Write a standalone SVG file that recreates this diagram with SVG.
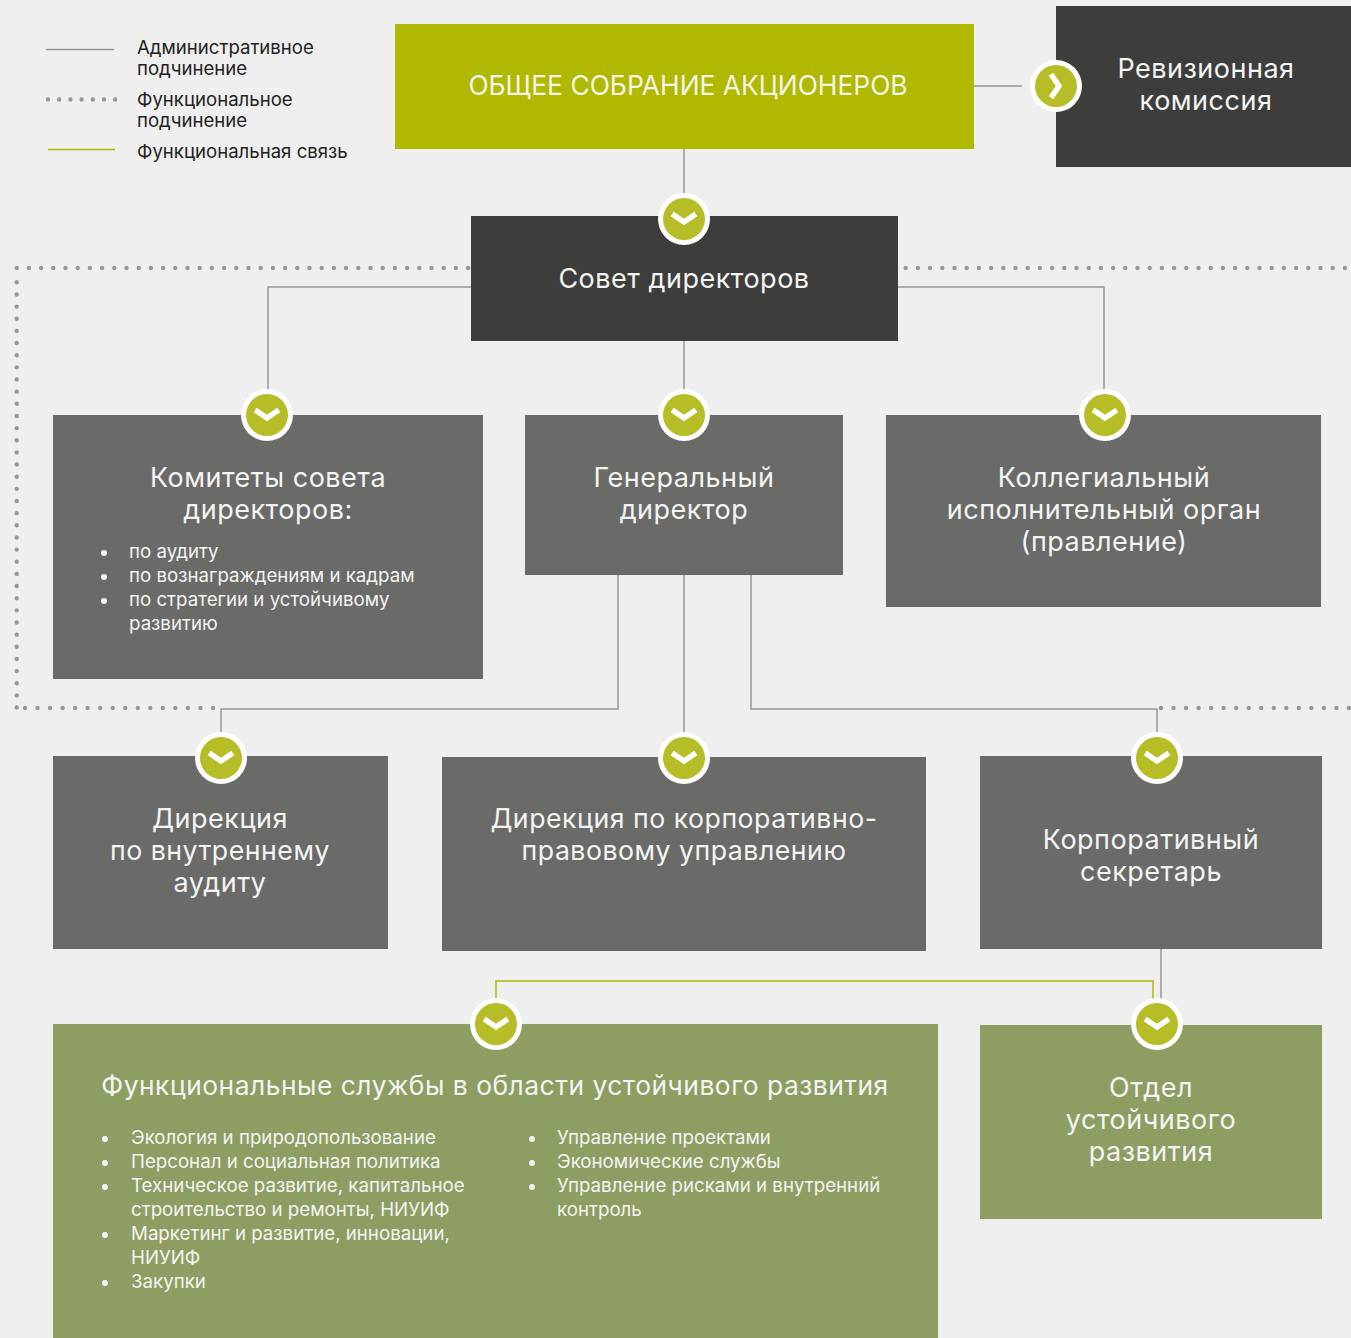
<svg xmlns="http://www.w3.org/2000/svg" width="1351" height="1338" viewBox="0 0 1351 1338">
<style>
text{font-family:Inter,"Noto Sans",sans-serif}
.h{font-size:27px;fill:#f4f4f4;text-anchor:middle;letter-spacing:.5px}
.m{font-size:26.7px}
.t{font-size:26.4px}
.s{font-size:18.7px;fill:#f4f4f4}
.l{font-size:18.6px;fill:#222}
.a{fill:none;stroke:#989898;stroke-width:1.5}
.g{fill:none;stroke:#b2b800;stroke-width:1.5}
.d{fill:none;stroke:#96979a;stroke-width:4.4;stroke-linecap:round;stroke-dasharray:0 12.2}
.o{fill:#fff}.i{fill:#b7bd26}
.c{fill:none;stroke:#fff;stroke-width:5.4}
.dg{fill:#3d3d3b}.mg{fill:#6a6a68}.gr{fill:#8e9e62}
.b{fill:#f4f4f4}
</style>
<defs>
<g id="bd"><circle class="o" r="26"/><circle class="i" r="21"/><path class="c" d="M-11.800-5 0 3 11.800-5"/></g>
<g id="br"><circle class="o" r="26"/><circle class="i" r="21"/><path class="c" d="M-5-11.800 3 0-5 11.800"/></g>
</defs>
<rect width="1351" height="1338" fill="#efefef"/>
<g id="legend">
<path class="a" d="M46 49.500H114"/>
<path class="d" d="M48 99.500H116" style="stroke-dasharray:0 11.2"/>
<path class="g" d="M48 149.500H115"/>
<text class="l" x="137" y="54">Административное</text>
<text class="l" x="137" y="75">подчинение</text>
<text class="l" x="137" y="106">Функциональное</text>
<text class="l" x="137" y="127">подчинение</text>
<text class="l" x="137" y="158">Функциональная связь</text>
</g>
<g id="connectors">
<path class="d" d="M16.700 268H470M905.700 268H1351"/>
<path class="d" d="M16.700 282.300V708" style="stroke-dasharray:0 12.150"/>
<path class="d" d="M25 708H214M1161 708H1351" style="stroke-dasharray:0 12.530"/>
<path class="a" d="M974 86H1022M684 149V200M471 287H268V395M898 287H1104V395M684 341V395M618 575V709H221V740M684 575V740M751 575V709H1157V740M1161 949V1005"/>
<path class="g" d="M1153 1005V981H496V1005"/>
</g>
<g id="n-assembly"><rect x="395" y="24" width="579" height="125" fill="#b0b800"/><text x="688" y="95" style="font-size:26.4px;fill:#f4f4e8;text-anchor:middle">ОБЩЕЕ СОБРАНИЕ АКЦИОНЕРОВ</text></g>
<g id="n-audit"><rect class="dg" x="1056" y="6" width="295" height="161"/><text class="h" x="1206" y="78">Ревизионная</text><text class="h" x="1206" y="110">комиссия</text><use href="#br" x="1056" y="86"/></g>
<g id="n-board"><rect class="dg" x="471" y="216" width="427" height="125"/><text class="h" x="684" y="288">Совет директоров</text><use href="#bd" x="684" y="219"/></g>
<g id="n-committees"><rect class="mg" x="53" y="415" width="430" height="264"/>
<text class="h" x="268" y="487">Комитеты совета</text><text class="h" x="268" y="519">директоров:</text>
<circle class="b" cx="104" cy="553" r="3"/><circle class="b" cx="104" cy="577" r="3"/><circle class="b" cx="104" cy="601" r="3"/>
<text class="s" x="129" y="558">по аудиту</text><text class="s" x="129" y="582">по вознаграждениям и кадрам</text><text class="s" x="129" y="606">по стратегии и устойчивому</text><text class="s" x="129" y="630">развитию</text>
<use href="#bd" x="267" y="415"/></g>
<g id="n-ceo"><rect class="mg" x="525" y="415" width="318" height="160"/><text class="h" x="684" y="487">Генеральный</text><text class="h" x="684" y="519">директор</text><use href="#bd" x="684" y="415"/></g>
<g id="n-exec"><rect class="mg" x="886" y="415" width="435" height="192"/><text class="h" x="1104" y="487">Коллегиальный</text><text class="h" x="1104" y="519">исполнительный орган</text><text class="h" x="1104" y="551">(правление)</text><use href="#bd" x="1105" y="415"/></g>
<g id="n-intaudit"><rect class="mg" x="53" y="756" width="335" height="193"/><text class="h" x="220" y="828">Дирекция</text><text class="h m" x="220" y="860">по внутреннему</text><text class="h" x="220" y="892">аудиту</text><use href="#bd" x="221" y="758"/></g>
<g id="n-legal"><rect class="mg" x="442" y="757" width="484" height="194"/><text class="h m" x="684" y="828">Дирекция по корпоративно-</text><text class="h m" x="684" y="860">правовому управлению</text><use href="#bd" x="684" y="758"/></g>
<g id="n-secretary"><rect class="mg" x="980" y="756" width="342" height="193"/><text class="h" x="1151" y="849">Корпоративный</text><text class="h" x="1151" y="881">секретарь</text><use href="#bd" x="1157" y="758"/></g>
<g id="n-services"><rect class="gr" x="53" y="1024" width="885" height="314"/>
<text class="h t" x="495" y="1095">Функциональные службы в области устойчивого развития</text>
<circle class="b" cx="105" cy="1139" r="3"/><circle class="b" cx="105" cy="1163" r="3"/><circle class="b" cx="105" cy="1187" r="3"/><circle class="b" cx="105" cy="1235" r="3"/><circle class="b" cx="105" cy="1283" r="3"/>
<text class="s" x="131" y="1144">Экология и природопользование</text><text class="s" x="131" y="1168">Персонал и социальная политика</text><text class="s" x="131" y="1192">Техническое развитие, капитальное</text><text class="s" x="131" y="1216">строительство и ремонты, НИУИФ</text><text class="s" x="131" y="1240">Маркетинг и развитие, инновации,</text><text class="s" x="131" y="1264">НИУИФ</text><text class="s" x="131" y="1288">Закупки</text>
<circle class="b" cx="532" cy="1139" r="3"/><circle class="b" cx="532" cy="1163" r="3"/><circle class="b" cx="532" cy="1187" r="3"/>
<text class="s" x="557" y="1144">Управление проектами</text><text class="s" x="557" y="1168">Экономические службы</text><text class="s" x="557" y="1192">Управление рисками и внутренний</text><text class="s" x="557" y="1216">контроль</text>
<use href="#bd" x="496" y="1024"/></g>
<g id="n-dept"><rect class="gr" x="980" y="1025" width="342" height="194"/><text class="h" x="1151" y="1097">Отдел</text><text class="h" x="1151" y="1129">устойчивого</text><text class="h" x="1151" y="1161">развития</text><use href="#bd" x="1157" y="1024"/></g>
</svg>
